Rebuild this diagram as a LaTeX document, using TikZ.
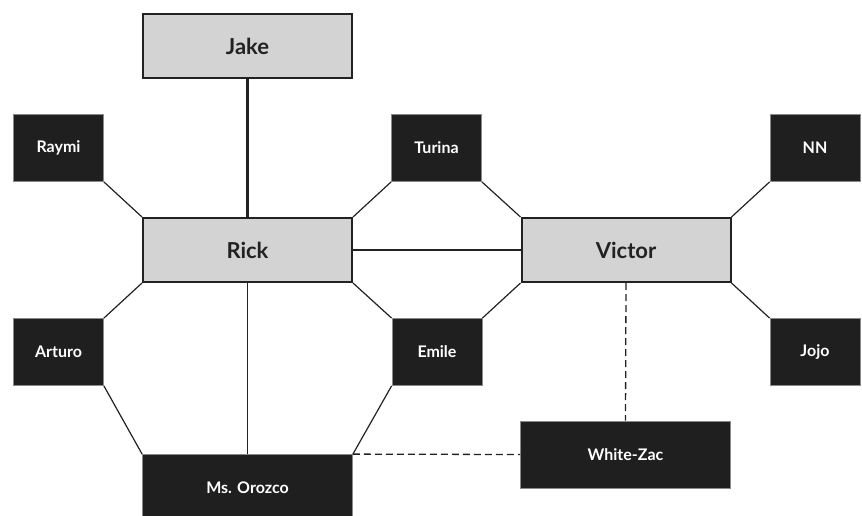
\documentclass[tikz,border=0pt]{standalone}
\usepackage{fontspec}
\setmainfont{Lato}
\usepackage{tikz}
\usetikzlibrary{positioning}
\definecolor{leadgray}{HTML}{D3D3D3}
\definecolor{inkdark}{HTML}{222222}
\definecolor{memberblack}{HTML}{1F1F1F}
\definecolor{memberrim}{HTML}{8A8A8A}
\tikzset{
    lead/.style={rectangle,draw=inkdark,line width=2pt,fill=leadgray,text=inkdark,minimum width=209pt,minimum height=64pt,inner sep=0pt,font=\fontsize{22}{26}\selectfont\bfseries},
    member/.style={rectangle,draw=memberrim,line width=0.8pt,fill=memberblack,text=white,minimum width=90pt,minimum height=67pt,inner sep=0pt,font=\fontsize{16}{19}\selectfont\bfseries},
    wide/.style={minimum width=210pt},
    tie/.style={draw=inkdark,line width=1.2pt},
    strongtie/.style={draw=inkdark,line width=2.3pt},
    weaktie/.style={draw=inkdark,line width=1.3pt,dash pattern=on 7pt off 4pt}
}
\begin{document}
\begin{tikzpicture}[x=1pt,y=-1pt]
\useasboundingbox (0,0) rectangle (862,515);
% the three leads
\node[lead] (jake) at (247.5,46) {Jake};
\node[lead] (rick) at (247.5,250) {Rick};
\node[lead] (victor) at (626,250) {Victor};
% members around them
\foreach \nm/\x/\y/\txt in {raymi/58.5/148/Raymi,turina/436.5/148/Turina,nn/815/148/NN,
    arturo/58.5/352/Arturo,emile/437/352/Emile,jojo/815/352/Jojo}{
    \node[member] (\nm) at (\x,\y) {\txt};
}
\node[member,wide] (orozco) at (247.5,488) {Ms. Orozco};
\node[member,wide] (whitezac) at (625.5,454.5) {White-Zac};
% ties
\draw[strongtie] (jake.south) -- (rick.north);
\draw[strongtie] (rick.east) -- (victor.west);
\foreach \a/\b in {raymi.south east/rick.north west,turina.south west/rick.north east,
    turina.south east/victor.north west,nn.south west/victor.north east,
    arturo.north east/rick.south west,emile.north west/rick.south east,
    emile.north east/victor.south west,jojo.north west/victor.south east,
    arturo.south east/orozco.north west,rick.south/orozco.north,emile.south west/orozco.north east}{
    \draw[tie] (\a) -- (\b);
}
\draw[weaktie] (victor.south) -- (whitezac.north);
\draw[weaktie] (orozco.north east) -- (whitezac.west);
\end{tikzpicture}
\end{document}
